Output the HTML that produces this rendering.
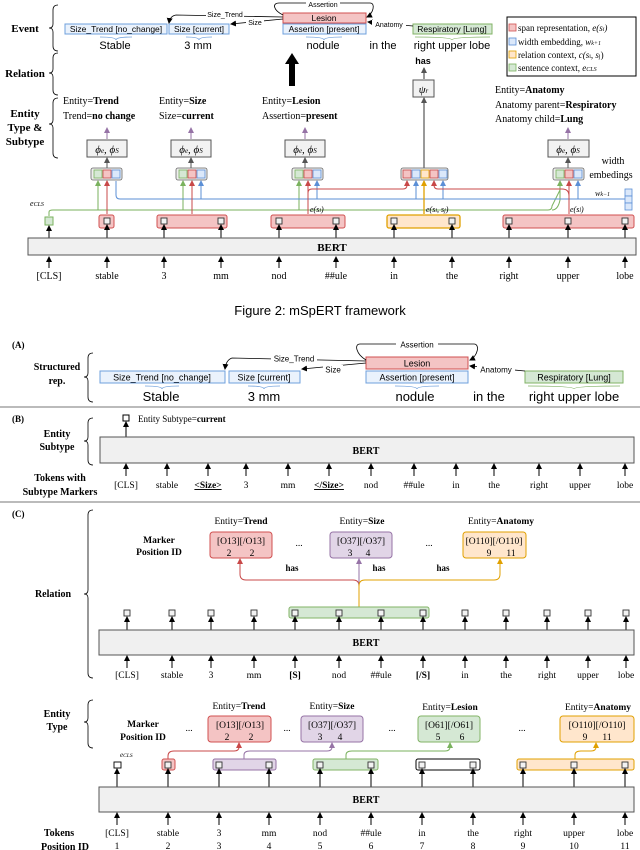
<!DOCTYPE html>
<html><head><meta charset="utf-8"><style>
body{margin:0;background:#fff}
svg{display:block}
.s{font-family:"Liberation Serif",serif}
.a{font-family:"Liberation Sans",sans-serif}
</style></head><body>
<svg width="640" height="850" viewBox="0 0 640 850" xmlns="http://www.w3.org/2000/svg">
<defs>
<marker id="mk" markerWidth="6" markerHeight="6" refX="5" refY="3" orient="auto" markerUnits="userSpaceOnUse"><path d="M0,0 L6,3 L0,6z" fill="#000"/></marker>
<marker id="mg" markerWidth="6" markerHeight="6" refX="5" refY="3" orient="auto" markerUnits="userSpaceOnUse"><path d="M0,0 L6,3 L0,6z" fill="#555"/></marker>
<marker id="mr" markerWidth="6" markerHeight="6" refX="5" refY="3" orient="auto" markerUnits="userSpaceOnUse"><path d="M0,0 L6,3 L0,6z" fill="#c84848"/></marker>
<marker id="mb" markerWidth="6" markerHeight="6" refX="5" refY="3" orient="auto" markerUnits="userSpaceOnUse"><path d="M0,0 L6,3 L0,6z" fill="#5b8fd6"/></marker>
<marker id="mn" markerWidth="6" markerHeight="6" refX="5" refY="3" orient="auto" markerUnits="userSpaceOnUse"><path d="M0,0 L6,3 L0,6z" fill="#7ab25e"/></marker>
<marker id="mo" markerWidth="6" markerHeight="6" refX="5" refY="3" orient="auto" markerUnits="userSpaceOnUse"><path d="M0,0 L6,3 L0,6z" fill="#e0a000"/></marker>
<marker id="mp" markerWidth="6" markerHeight="6" refX="5" refY="3" orient="auto" markerUnits="userSpaceOnUse"><path d="M0,0 L6,3 L0,6z" fill="#9673a6"/></marker>
</defs>

<!-- ============ TOP FIGURE ============ -->
<g class="s" font-weight="bold" font-size="11" text-anchor="middle">
<text x="25" y="32">Event</text>
<text x="25" y="77">Relation</text>
<text x="25" y="117">Entity</text><text x="25" y="131">Type &amp;</text><text x="25" y="145">Subtype</text>
</g>
<g fill="none" stroke="#000" stroke-width="0.8">
<path d="M58,5 Q53,5 53,10 L53,24 Q53,28 49,28 Q53,28 53,32 L53,46 Q53,51 58,51"/>
<path d="M58,53 Q53,53 53,58 L53,69 Q53,73 49,73 Q53,73 53,77 L53,90 Q53,95 58,95"/>
<path d="M58,98 Q53,98 53,103 L53,120 Q53,124 49,124 Q53,124 53,128 L53,153 Q53,158 58,158"/>
</g>
<g class="a" font-size="8.5" text-anchor="middle">
<rect x="65" y="24" width="102" height="10" fill="#eaf2fc" stroke="#6fa0dc"/><text x="116" y="32">Size_Trend [no_change]</text>
<rect x="169" y="24" width="60" height="10" fill="#eaf2fc" stroke="#6fa0dc"/><text x="199" y="32">Size [current]</text>
<rect x="283" y="13" width="83" height="10" fill="#f4c4c4" stroke="#d05050"/><text x="324" y="21">Lesion</text>
<rect x="283" y="24" width="83" height="10" fill="#eaf2fc" stroke="#6fa0dc"/><text x="324" y="32">Assertion [present]</text>
<rect x="413" y="24" width="79" height="10" fill="#d5e8d4" stroke="#82b366"/><text x="452" y="32">Respiratory [Lung]</text>
</g>
<g fill="none" stroke-width="0.8">
<path d="M100,37 Q116,37 116,40 Q116,37 132,37" stroke="#6fa0dc"/>
<path d="M186,37 Q199,37 199,40 Q199,37 212,37" stroke="#6fa0dc"/>
<path d="M306,37 Q324,37 324,40 Q324,37 342,37" stroke="#6fa0dc"/>
<path d="M415,37 Q452,37 452,40 Q452,37 490,37" stroke="#82b366"/>
</g>
<g class="a" font-size="11" text-anchor="middle">
<text x="115" y="49">Stable</text><text x="198" y="49">3 mm</text><text x="323" y="49">nodule</text><text x="383" y="49">in the</text><text x="452" y="49">right upper  lobe</text>
</g>
<g fill="none" stroke="#000" stroke-width="0.8">
<path d="M283,15 C273,10 272,3 279,3 L370,3 C376,3 373,14 367,17" marker-end="url(#mk)"/>
<path d="M283,17 L176,15 Q170,16 169,23" marker-end="url(#mk)"/>
<path d="M283,19 L231,24" marker-end="url(#mk)"/>
<path d="M413,26 L368,22" marker-end="url(#mk)"/>
</g>
<g class="a" font-size="7" text-anchor="middle">
<rect x="306" y="0" width="34" height="8" fill="#fff"/><text x="323" y="7">Assertion</text>
<rect x="206" y="10" width="38" height="8" fill="#fff"/><text x="225" y="17">Size_Trend</text>
<rect x="246" y="18" width="18" height="8" fill="#fff"/><text x="255" y="25">Size</text>
<rect x="372" y="20" width="34" height="8" fill="#fff"/><text x="389" y="27">Anatomy</text>
</g>
<path d="M289,86 L289,64 L285,64 L292,53 L299,64 L295,64 L295,86z" fill="#000"/>
<rect x="507" y="17" width="129" height="59" fill="#fff" stroke="#000" stroke-width="1"/>
<g class="s" font-size="9">
<rect x="509" y="24" width="7" height="7" fill="#f4c4c4" stroke="#d05050" stroke-width=".8"/><text x="518" y="31">span representation, <tspan font-style="italic">e(s</tspan><tspan font-size="6" font-style="italic">i</tspan><tspan font-style="italic">)</tspan></text>
<rect x="509" y="38" width="7" height="7" fill="#dbe8fa" stroke="#5b8fd6" stroke-width=".8"/><text x="518" y="45">width embedding, <tspan font-style="italic">w</tspan><tspan font-size="6" font-style="italic">k+1</tspan></text>
<rect x="509" y="51" width="7" height="7" fill="#ffe6cc" stroke="#e0a000" stroke-width=".8"/><text x="518" y="58">relation context, <tspan font-style="italic">c(s</tspan><tspan font-size="6">i</tspan><tspan font-style="italic">, s</tspan><tspan font-size="6">j</tspan>)</text>
<rect x="509" y="64" width="7" height="7" fill="#d5e8d4" stroke="#7ab25e" stroke-width=".8"/><text x="518" y="71">sentence context, <tspan font-style="italic">e</tspan><tspan font-size="6" font-style="italic">CLS</tspan></text>
</g>
<text x="423" y="64" class="a" font-size="9" font-weight="bold" text-anchor="middle">has</text>
<line x1="424" y1="168" x2="424" y2="98" stroke="#555" stroke-width="1.2" marker-end="url(#mg)"/>
<line x1="424" y1="79" x2="424" y2="68" stroke="#555" stroke-width="1.2" marker-end="url(#mg)"/>
<rect x="413" y="80" width="21" height="17" fill="#f2f2f2" stroke="#555"/>
<text x="423.5" y="93" class="s" font-size="11" font-style="italic" text-anchor="middle">ψ<tspan font-size="7">r</tspan></text>
<g class="s" font-size="10">
<text x="63" y="104">Entity=<tspan font-weight="bold">Trend</tspan></text><text x="63" y="119">Trend=<tspan font-weight="bold">no change</tspan></text>
<text x="159" y="104">Entity=<tspan font-weight="bold">Size</tspan></text><text x="159" y="119">Size=<tspan font-weight="bold">current</tspan></text>
<text x="262" y="104">Entity=<tspan font-weight="bold">Lesion</tspan></text><text x="262" y="119">Assertion=<tspan font-weight="bold">present</tspan></text>
<text x="495" y="93">Entity=<tspan font-weight="bold">Anatomy</tspan></text><text x="495" y="108">Anatomy parent=<tspan font-weight="bold">Respiratory</tspan></text><text x="495" y="122">Anatomy child=<tspan font-weight="bold">Lung</tspan></text>
<text x="613" y="164" text-anchor="middle">width</text><text x="611" y="178" text-anchor="middle">embedings</text>
</g>
<g stroke="#9673a6" stroke-width="1">
<line x1="107" y1="139" x2="107" y2="128" marker-end="url(#mp)"/>
<line x1="191" y1="139" x2="191" y2="128" marker-end="url(#mp)"/>
<line x1="305" y1="139" x2="305" y2="128" marker-end="url(#mp)"/>
<line x1="568" y1="139" x2="568" y2="128" marker-end="url(#mp)"/>
</g>
<g stroke="#555" stroke-width="1">
<line x1="107" y1="168" x2="107" y2="158" marker-end="url(#mg)"/>
<line x1="191" y1="168" x2="191" y2="158" marker-end="url(#mg)"/>
<line x1="305" y1="168" x2="305" y2="158" marker-end="url(#mg)"/>
<line x1="568" y1="168" x2="568" y2="158" marker-end="url(#mg)"/>
</g>
<g fill="#f2f2f2" stroke="#555">
<rect x="87" y="140" width="40" height="17"/><rect x="171" y="140" width="40" height="17"/><rect x="285" y="140" width="40" height="17"/><rect x="548" y="140" width="41" height="17"/>
</g>
<g class="s" font-size="11" font-style="italic" text-anchor="middle">
<text x="107" y="153">ϕ<tspan font-size="7">e</tspan>, ϕ<tspan font-size="7">S</tspan></text>
<text x="191" y="153">ϕ<tspan font-size="7">e</tspan>, ϕ<tspan font-size="7">S</tspan></text>
<text x="305" y="153">ϕ<tspan font-size="7">e</tspan>, ϕ<tspan font-size="7">S</tspan></text>
<text x="568" y="153">ϕ<tspan font-size="7">e</tspan>, ϕ<tspan font-size="7">S</tspan></text>
</g>
<g stroke-width=".8">
<rect x="91" y="168" width="31" height="12" rx="2" fill="#eee" stroke="#666"/>
<rect x="94" y="170" width="8" height="8" fill="#d5e8d4" stroke="#7ab25e"/><rect x="103" y="170" width="8" height="8" fill="#f4c4c4" stroke="#c84848"/><rect x="112" y="170" width="8" height="8" fill="#dbe8fa" stroke="#5b8fd6"/>
<rect x="176" y="168" width="31" height="12" rx="2" fill="#eee" stroke="#666"/>
<rect x="179" y="170" width="8" height="8" fill="#d5e8d4" stroke="#7ab25e"/><rect x="188" y="170" width="8" height="8" fill="#f4c4c4" stroke="#c84848"/><rect x="197" y="170" width="8" height="8" fill="#dbe8fa" stroke="#5b8fd6"/>
<rect x="292" y="168" width="31" height="12" rx="2" fill="#eee" stroke="#666"/>
<rect x="295" y="170" width="8" height="8" fill="#d5e8d4" stroke="#7ab25e"/><rect x="304" y="170" width="8" height="8" fill="#f4c4c4" stroke="#c84848"/><rect x="313" y="170" width="8" height="8" fill="#dbe8fa" stroke="#5b8fd6"/>
<rect x="553" y="168" width="31" height="12" rx="2" fill="#eee" stroke="#666"/>
<rect x="556" y="170" width="8" height="8" fill="#d5e8d4" stroke="#7ab25e"/><rect x="565" y="170" width="8" height="8" fill="#f4c4c4" stroke="#c84848"/><rect x="574" y="170" width="8" height="8" fill="#dbe8fa" stroke="#5b8fd6"/>
<rect x="401" y="168" width="47" height="12" rx="2" fill="#eee" stroke="#666"/>
<rect x="403" y="170" width="8" height="8" fill="#f4c4c4" stroke="#c84848"/><rect x="412" y="170" width="8" height="8" fill="#dbe8fa" stroke="#5b8fd6"/><rect x="421" y="170" width="8" height="8" fill="#ffe6cc" stroke="#e0a000"/><rect x="430" y="170" width="8" height="8" fill="#f4c4c4" stroke="#c84848"/><rect x="439" y="170" width="8" height="8" fill="#dbe8fa" stroke="#5b8fd6"/>
</g>
<g fill="none" stroke-width="1">
<path d="M49,216 L49,212 Q49,210 53,210 L548,210 Q552,210 552,206 L560,190 L560,181" stroke="#7ab25e"/>
<path d="M98,210 L98,181" stroke="#7ab25e" marker-end="url(#mn)"/>
<path d="M183,210 L183,181" stroke="#7ab25e" marker-end="url(#mn)"/>
<path d="M299,210 L299,181" stroke="#7ab25e" marker-end="url(#mn)"/>
<path d="M552,210 Q558,210 560,200 L560,181" stroke="#7ab25e" marker-end="url(#mn)"/>
<path d="M116,181 L116,195 Q116,199 120,199 L625,199" stroke="#5b8fd6"/>
<path d="M201,199 L201,181" stroke="#5b8fd6" marker-end="url(#mb)"/>
<path d="M317,199 L317,181" stroke="#5b8fd6" marker-end="url(#mb)"/>
<path d="M416,199 L416,181" stroke="#5b8fd6" marker-end="url(#mb)"/>
<path d="M443,199 L443,181" stroke="#5b8fd6" marker-end="url(#mb)"/>
<path d="M578,199 L578,181" stroke="#5b8fd6" marker-end="url(#mb)"/>
<path d="M107,214 L107,181" stroke="#c84848" marker-end="url(#mr)"/>
<path d="M192,214 L192,181" stroke="#c84848" marker-end="url(#mr)"/>
<path d="M308,214 L308,181" stroke="#c84848" marker-end="url(#mr)"/>
<path d="M308,200 L308,193 Q308,189 312,189 L403,189 Q407,189 407,185 L407,181" stroke="#c84848" marker-end="url(#mr)"/>
<path d="M569,214 L569,181" stroke="#c84848" marker-end="url(#mr)"/>
<path d="M569,200 L569,196 Q569,189 562,189 L438,189 Q434,189 434,185 L434,181" stroke="#c84848" marker-end="url(#mr)"/>
<path d="M424,214 L424,181" stroke="#e0a000" stroke-width="1.3" marker-end="url(#mo)"/>
</g>
<g stroke="#5b8fd6" stroke-width=".8" fill="#dbe8fa"><rect x="625" y="189" width="7" height="7"/><rect x="625" y="196" width="7" height="7"/><rect x="625" y="203" width="7" height="7"/></g>
<g class="s" font-size="8" font-style="italic">
<text x="595" y="196">w<tspan font-size="6">k−1</tspan></text>
<text x="30" y="206">e<tspan font-size="6">CLS</tspan></text>
<text x="310" y="212">e(s<tspan font-size="6">i</tspan>)</text>
<text x="426" y="212">e(s<tspan font-size="6">i</tspan>, s<tspan font-size="6">j</tspan>)</text>
<text x="570" y="212">e(s<tspan font-size="6">l</tspan>)</text>
</g>
<g stroke-width="1">
<rect x="99" y="215" width="15" height="13" rx="2" fill="#f4c4c4" stroke="#d05050"/>
<rect x="157" y="215" width="70" height="13" rx="2" fill="#f4c4c4" stroke="#d05050"/>
<rect x="271" y="215" width="74" height="13" rx="2" fill="#f4c4c4" stroke="#d05050"/>
<rect x="387" y="215" width="73" height="13" rx="2" fill="#ffe6cc" stroke="#e0a000" stroke-width="1.3"/>
<rect x="503" y="215" width="131" height="13" rx="2" fill="#f4c4c4" stroke="#d05050"/>
<rect x="45" y="217" width="8" height="8" fill="#d5e8d4" stroke="#7ab25e"/>
</g>
<g fill="#f2f2f2" stroke="#333" stroke-width=".9">
<rect x="104" y="218" width="6" height="6"/><rect x="161" y="218" width="6" height="6"/><rect x="218" y="218" width="6" height="6"/><rect x="276" y="218" width="6" height="6"/><rect x="333" y="218" width="6" height="6"/><rect x="391" y="218" width="6" height="6"/><rect x="449" y="218" width="6" height="6"/><rect x="506" y="218" width="6" height="6"/><rect x="565" y="218" width="6" height="6"/><rect x="622" y="218" width="6" height="6"/>
</g>
<g stroke="#000" stroke-width="1">
<line x1="49" y1="238" x2="49" y2="226" marker-end="url(#mk)"/><line x1="107" y1="238" x2="107" y2="225" marker-end="url(#mk)"/><line x1="164" y1="238" x2="164" y2="225" marker-end="url(#mk)"/><line x1="221" y1="238" x2="221" y2="225" marker-end="url(#mk)"/><line x1="279" y1="238" x2="279" y2="225" marker-end="url(#mk)"/><line x1="336" y1="238" x2="336" y2="225" marker-end="url(#mk)"/><line x1="394" y1="238" x2="394" y2="225" marker-end="url(#mk)"/><line x1="452" y1="238" x2="452" y2="225" marker-end="url(#mk)"/><line x1="509" y1="238" x2="509" y2="225" marker-end="url(#mk)"/><line x1="568" y1="238" x2="568" y2="225" marker-end="url(#mk)"/><line x1="625" y1="238" x2="625" y2="225" marker-end="url(#mk)"/>
</g>
<rect x="28" y="238" width="608" height="17" fill="#f0f0f0" stroke="#555"/>
<text x="332" y="251" class="s" font-size="11" font-weight="bold" text-anchor="middle">BERT</text>
<g stroke="#000" stroke-width="1">
<line x1="49" y1="268" x2="49" y2="257" marker-end="url(#mk)"/><line x1="107" y1="268" x2="107" y2="257" marker-end="url(#mk)"/><line x1="164" y1="268" x2="164" y2="257" marker-end="url(#mk)"/><line x1="221" y1="268" x2="221" y2="257" marker-end="url(#mk)"/><line x1="279" y1="268" x2="279" y2="257" marker-end="url(#mk)"/><line x1="336" y1="268" x2="336" y2="257" marker-end="url(#mk)"/><line x1="394" y1="268" x2="394" y2="257" marker-end="url(#mk)"/><line x1="452" y1="268" x2="452" y2="257" marker-end="url(#mk)"/><line x1="509" y1="268" x2="509" y2="257" marker-end="url(#mk)"/><line x1="568" y1="268" x2="568" y2="257" marker-end="url(#mk)"/><line x1="625" y1="268" x2="625" y2="257" marker-end="url(#mk)"/>
</g>
<g class="s" font-size="10" text-anchor="middle">
<text x="49" y="279">[CLS]</text><text x="107" y="279">stable</text><text x="164" y="279">3</text><text x="221" y="279">mm</text><text x="279" y="279">nod</text><text x="336" y="279">##ule</text><text x="394" y="279">in</text><text x="452" y="279">the</text><text x="509" y="279">right</text><text x="568" y="279">upper</text><text x="625" y="279">lobe</text>
</g>
<text x="320" y="315" class="a" font-size="13" text-anchor="middle">Figure 2: mSpERT framework</text>

<!-- ============ (A) ============ -->
<g class="s" font-weight="bold" font-size="9">
<text x="12" y="348">(A)</text><text x="12" y="422">(B)</text><text x="12" y="517">(C)</text>
</g>
<g class="s" font-weight="bold" font-size="10" text-anchor="middle">
<text x="57" y="370">Structured</text><text x="57" y="384">rep.</text>
<text x="57" y="437">Entity</text><text x="57" y="450">Subtype</text>
<text x="60" y="481">Tokens with</text><text x="60" y="495">Subtype Markers</text>
<text x="53" y="597">Relation</text>
<text x="57" y="717">Entity</text><text x="57" y="730">Type</text>
<text x="59" y="836">Tokens</text><text x="65" y="850">Position ID</text>
<text x="159" y="543" font-size="9.5">Marker</text><text x="159" y="555" font-size="9.5">Position ID</text>
<text x="143" y="727" font-size="9.5">Marker</text><text x="143" y="740" font-size="9.5">Position ID</text>
</g>
<g fill="none" stroke="#000" stroke-width="0.8">
<path d="M93,353 Q88,353 88,358 L88,373 Q88,377 84,377 Q88,377 88,381 L88,397 Q88,402 93,402"/>
<path d="M93,418 Q88,418 88,423 L88,437 Q88,441 84,441 Q88,441 88,445 L88,460 Q88,465 93,465"/>
<path d="M93,510 Q88,510 88,515 L88,590 Q88,594 84,594 Q88,594 88,598 L88,673 Q88,678 93,678"/>
<path d="M93,700 Q88,700 88,705 L88,718 Q88,722 84,722 Q88,722 88,726 L88,743 Q88,748 93,748"/>
</g>
<g class="a" font-size="9" text-anchor="middle">
<rect x="100" y="371" width="125" height="12" fill="#eaf2fc" stroke="#6fa0dc"/><text x="162" y="380.5">Size_Trend [no_change]</text>
<rect x="229" y="371" width="71" height="12" fill="#eaf2fc" stroke="#6fa0dc"/><text x="264" y="380.5">Size [current]</text>
<rect x="366" y="357" width="102" height="12" fill="#f4c4c4" stroke="#d05050"/><text x="417" y="366.5">Lesion</text>
<rect x="366" y="371" width="102" height="12" fill="#eaf2fc" stroke="#6fa0dc"/><text x="417" y="380.5">Assertion [present]</text>
<rect x="525" y="371" width="98" height="12" fill="#d5e8d4" stroke="#82b366"/><text x="574" y="380.5">Respiratory [Lung]</text>
</g>
<g fill="none" stroke-width="0.8">
<path d="M145,386 Q162,386 162,389 Q162,386 179,386" stroke="#6fa0dc"/>
<path d="M248,386 Q264,386 264,389 Q264,386 280,386" stroke="#6fa0dc"/>
<path d="M395,386 Q417,386 417,389 Q417,386 439,386" stroke="#6fa0dc"/>
<path d="M528,386 Q574,386 574,389 Q574,386 620,386" stroke="#82b366"/>
</g>
<g class="a" font-size="13" text-anchor="middle">
<text x="161" y="401">Stable</text><text x="264" y="401">3 mm</text><text x="415" y="401">nodule</text><text x="489" y="401">in the</text><text x="574" y="401">right upper  lobe</text>
</g>
<g fill="none" stroke="#000" stroke-width="0.8">
<path d="M366,360 C356,354 354,344 360,344 L474,344 C480,344 478,356 470,360" marker-end="url(#mk)"/>
<path d="M366,361 L232,358 Q226,360 225,369" marker-end="url(#mk)"/>
<path d="M366,363 L302,369" marker-end="url(#mk)"/>
<path d="M525,371 L470,366" marker-end="url(#mk)"/>
</g>
<g class="a" font-size="8" text-anchor="middle">
<rect x="396" y="340" width="42" height="9" fill="#fff"/><text x="417" y="347.5">Assertion</text>
<rect x="271" y="354" width="46" height="9" fill="#fff"/><text x="294" y="361.5">Size_Trend</text>
<rect x="323" y="365" width="20" height="9" fill="#fff"/><text x="333" y="372.5">Size</text>
<rect x="477" y="365" width="38" height="9" fill="#fff"/><text x="496" y="372.5">Anatomy</text>
</g>
<line x1="0" y1="407" x2="640" y2="407" stroke="#777" stroke-width="1"/>

<!-- ============ (B) ============ -->
<rect x="123" y="415" width="6" height="6" fill="#fff" stroke="#000"/>
<line x1="126" y1="437" x2="126" y2="422" stroke="#000" marker-end="url(#mk)"/>
<text x="138" y="422" class="s" font-size="9">Entity Subtype=<tspan font-weight="bold">current</tspan></text>
<rect x="100" y="437" width="534" height="26" fill="#f0f0f0" stroke="#555"/>
<text x="366" y="454" class="s" font-size="10" font-weight="bold" text-anchor="middle">BERT</text>
<g stroke="#000" stroke-width="1">
<line x1="126" y1="476" x2="126" y2="464" marker-end="url(#mk)"/><line x1="167" y1="476" x2="167" y2="464" marker-end="url(#mk)"/><line x1="208" y1="476" x2="208" y2="464" marker-end="url(#mk)"/><line x1="246" y1="476" x2="246" y2="464" marker-end="url(#mk)"/><line x1="288" y1="476" x2="288" y2="464" marker-end="url(#mk)"/><line x1="329" y1="476" x2="329" y2="464" marker-end="url(#mk)"/><line x1="371" y1="476" x2="371" y2="464" marker-end="url(#mk)"/><line x1="414" y1="476" x2="414" y2="464" marker-end="url(#mk)"/><line x1="456" y1="476" x2="456" y2="464" marker-end="url(#mk)"/><line x1="494" y1="476" x2="494" y2="464" marker-end="url(#mk)"/><line x1="539" y1="476" x2="539" y2="464" marker-end="url(#mk)"/><line x1="580" y1="476" x2="580" y2="464" marker-end="url(#mk)"/><line x1="625" y1="476" x2="625" y2="464" marker-end="url(#mk)"/>
</g>
<g class="s" font-size="9.5" text-anchor="middle">
<text x="126" y="488">[CLS]</text><text x="167" y="488">stable</text><text x="208" y="488" font-weight="bold" text-decoration="underline">&lt;Size&gt;</text><text x="246" y="488">3</text><text x="288" y="488">mm</text><text x="329" y="488" font-weight="bold" text-decoration="underline">&lt;/Size&gt;</text><text x="371" y="488">nod</text><text x="414" y="488">##ule</text><text x="456" y="488">in</text><text x="494" y="488">the</text><text x="539" y="488">right</text><text x="580" y="488">upper</text><text x="625" y="488">lobe</text>
</g>
<line x1="0" y1="502" x2="640" y2="502" stroke="#777" stroke-width="1"/>

<!-- ============ (C) Relation ============ -->
<g class="s" font-size="9.5" text-anchor="middle">
<text x="241" y="524">Entity=<tspan font-weight="bold">Trend</tspan></text>
<text x="362" y="524">Entity=<tspan font-weight="bold">Size</tspan></text>
<text x="501" y="524">Entity=<tspan font-weight="bold">Anatomy</tspan></text>
</g>
<rect x="210" y="532" width="62" height="26" rx="3" fill="#f4c4c4" stroke="#d05050"/>
<rect x="330" y="532" width="62" height="26" rx="3" fill="#e1d5e7" stroke="#9673a6"/>
<rect x="463" y="532" width="63" height="26" rx="3" fill="#ffe6cc" stroke="#e0a000"/>
<g class="s" font-size="9.5" text-anchor="middle">
<text x="241" y="544">[O13][/O13]</text><text x="229" y="556">2</text><text x="252" y="556">2</text>
<text x="361" y="544">[O37][/O37]</text><text x="350" y="556">3</text><text x="368" y="556">4</text>
<text x="494" y="544">[O110][/O110]</text><text x="489" y="556">9</text><text x="511" y="556">11</text>
<text x="299" y="546">...</text><text x="429" y="546">...</text>
</g>
<g class="s" font-size="9" font-weight="bold" text-anchor="middle"><text x="292" y="571">has</text><text x="379" y="571">has</text><text x="443" y="571">has</text></g>
<g fill="none" stroke-width="1">
<path d="M359,607 L359,586 Q359,580 353,580 L246,580 Q240,580 240,574 L240,559" stroke="#c84848" marker-end="url(#mr)"/>
<path d="M359,586 L359,559" stroke="#9673a6" marker-end="url(#mp)"/>
<path d="M359,607 L359,586 Q359,580 365,580 L494,580 Q500,580 500,574 L500,559" stroke="#e0a000" marker-end="url(#mo)"/>
</g>
<rect x="289" y="607" width="140" height="11" rx="2" fill="#d5e8d4" stroke="#82b366"/>
<g fill="#f2f2f2" stroke="#333" stroke-width=".9">
<rect x="124" y="610" width="6" height="6"/><rect x="169" y="610" width="6" height="6"/><rect x="208" y="610" width="6" height="6"/><rect x="251" y="610" width="6" height="6"/><rect x="292" y="610" width="6" height="6"/><rect x="336" y="610" width="6" height="6"/><rect x="378" y="610" width="6" height="6"/><rect x="420" y="610" width="6" height="6"/><rect x="462" y="610" width="6" height="6"/><rect x="503" y="610" width="6" height="6"/><rect x="544" y="610" width="6" height="6"/><rect x="585" y="610" width="6" height="6"/><rect x="623" y="610" width="6" height="6"/>
</g>
<g stroke="#000" stroke-width="1">
<line x1="127" y1="630" x2="127" y2="617" marker-end="url(#mk)"/><line x1="172" y1="630" x2="172" y2="617" marker-end="url(#mk)"/><line x1="211" y1="630" x2="211" y2="617" marker-end="url(#mk)"/><line x1="254" y1="630" x2="254" y2="617" marker-end="url(#mk)"/><line x1="295" y1="630" x2="295" y2="617" marker-end="url(#mk)"/><line x1="339" y1="630" x2="339" y2="617" marker-end="url(#mk)"/><line x1="381" y1="630" x2="381" y2="617" marker-end="url(#mk)"/><line x1="423" y1="630" x2="423" y2="617" marker-end="url(#mk)"/><line x1="465" y1="630" x2="465" y2="617" marker-end="url(#mk)"/><line x1="506" y1="630" x2="506" y2="617" marker-end="url(#mk)"/><line x1="547" y1="630" x2="547" y2="617" marker-end="url(#mk)"/><line x1="588" y1="630" x2="588" y2="617" marker-end="url(#mk)"/><line x1="626" y1="630" x2="626" y2="617" marker-end="url(#mk)"/>
</g>
<rect x="99" y="630" width="535" height="25" fill="#f0f0f0" stroke="#555"/>
<text x="366" y="646" class="s" font-size="10" font-weight="bold" text-anchor="middle">BERT</text>
<g stroke="#000" stroke-width="1">
<line x1="127" y1="668" x2="127" y2="656" marker-end="url(#mk)"/><line x1="172" y1="668" x2="172" y2="656" marker-end="url(#mk)"/><line x1="211" y1="668" x2="211" y2="656" marker-end="url(#mk)"/><line x1="254" y1="668" x2="254" y2="656" marker-end="url(#mk)"/><line x1="295" y1="668" x2="295" y2="656" marker-end="url(#mk)"/><line x1="339" y1="668" x2="339" y2="656" marker-end="url(#mk)"/><line x1="381" y1="668" x2="381" y2="656" marker-end="url(#mk)"/><line x1="423" y1="668" x2="423" y2="656" marker-end="url(#mk)"/><line x1="465" y1="668" x2="465" y2="656" marker-end="url(#mk)"/><line x1="506" y1="668" x2="506" y2="656" marker-end="url(#mk)"/><line x1="547" y1="668" x2="547" y2="656" marker-end="url(#mk)"/><line x1="588" y1="668" x2="588" y2="656" marker-end="url(#mk)"/><line x1="626" y1="668" x2="626" y2="656" marker-end="url(#mk)"/>
</g>
<g class="s" font-size="9.5" text-anchor="middle">
<text x="127" y="678">[CLS]</text><text x="172" y="678">stable</text><text x="211" y="678">3</text><text x="254" y="678">mm</text><text x="295" y="678" font-weight="bold">[S]</text><text x="339" y="678">nod</text><text x="381" y="678">##ule</text><text x="423" y="678" font-weight="bold">[/S]</text><text x="465" y="678">in</text><text x="506" y="678">the</text><text x="547" y="678">right</text><text x="588" y="678">upper</text><text x="626" y="678">lobe</text>
</g>

<!-- ============ (C) Entity Type ============ -->
<g class="s" font-size="9.5" text-anchor="middle">
<text x="239" y="709">Entity=<tspan font-weight="bold">Trend</tspan></text>
<text x="332" y="709">Entity=<tspan font-weight="bold">Size</tspan></text>
<text x="450" y="710">Entity=<tspan font-weight="bold">Lesion</tspan></text>
<text x="598" y="710">Entity=<tspan font-weight="bold">Anatomy</tspan></text>
</g>
<rect x="208" y="716" width="63" height="26" rx="3" fill="#f4c4c4" stroke="#d05050"/>
<rect x="301" y="716" width="62" height="26" rx="3" fill="#e1d5e7" stroke="#9673a6"/>
<rect x="418" y="716" width="62" height="26" rx="3" fill="#d5e8d4" stroke="#82b366"/>
<rect x="560" y="716" width="74" height="26" rx="3" fill="#ffe6cc" stroke="#e0a000"/>
<g class="s" font-size="9.5" text-anchor="middle">
<text x="240" y="728">[O13][/O13]</text><text x="227" y="740">2</text><text x="251" y="740">2</text>
<text x="332" y="728">[O37][/O37]</text><text x="320" y="740">3</text><text x="340" y="740">4</text>
<text x="449" y="728">[O61][/O61]</text><text x="438" y="740">5</text><text x="462" y="740">6</text>
<text x="597" y="728">[O110][/O110]</text><text x="585" y="740">9</text><text x="607" y="740">11</text>
<text x="189" y="731">...</text><text x="287" y="731">...</text><text x="392" y="731">...</text><text x="522" y="731">...</text>
</g>
<g fill="none" stroke-width="1">
<path d="M168,759 L168,756 Q168,751 174,751 L234,751 Q239,751 239,747 L239,743" stroke="#c84848" marker-end="url(#mr)"/>
<path d="M244,759 L244,755 Q244,751 250,751 L327,751 Q332,751 332,747 L332,743" stroke="#9673a6" marker-end="url(#mp)"/>
<path d="M346,759 L346,755 Q346,751 352,751 L445,751 Q450,751 450,747 L450,743" stroke="#7ab25e" marker-end="url(#mn)"/>
<path d="M575,759 L575,755 Q575,751 581,751 L591,751 Q596,751 596,747 L596,743" stroke="#e0a000" marker-end="url(#mo)"/>
</g>
<text x="120" y="757" class="s" font-size="7" font-style="italic">e<tspan font-size="5.5">CLS</tspan></text>
<g stroke-width="1">
<rect x="162" y="759" width="13" height="11" rx="2" fill="#f4c4c4" stroke="#d05050"/>
<rect x="213" y="759" width="63" height="11" rx="2" fill="#e1d5e7" stroke="#9673a6"/>
<rect x="313" y="759" width="65" height="11" rx="2" fill="#d5e8d4" stroke="#82b366"/>
<rect x="416" y="759" width="64" height="11" rx="2" fill="#fff" stroke="#000"/>
<rect x="517" y="759" width="117" height="11" rx="2" fill="#ffe6cc" stroke="#e0a000"/>
</g>
<g fill="#f2f2f2" stroke="#333" stroke-width=".9">
<rect x="114" y="762" width="7" height="6" fill="#fff" stroke="#000"/><rect x="165" y="762" width="6" height="6"/><rect x="216" y="762" width="6" height="6"/><rect x="266" y="762" width="6" height="6"/><rect x="317" y="762" width="6" height="6"/><rect x="368" y="762" width="6" height="6"/><rect x="419" y="762" width="6" height="6"/><rect x="470" y="762" width="6" height="6"/><rect x="520" y="762" width="6" height="6"/><rect x="571" y="762" width="6" height="6"/><rect x="622" y="762" width="6" height="6"/>
</g>
<g stroke="#000" stroke-width="1">
<line x1="117" y1="787" x2="117" y2="769" marker-end="url(#mk)"/><line x1="168" y1="787" x2="168" y2="769" marker-end="url(#mk)"/><line x1="219" y1="787" x2="219" y2="769" marker-end="url(#mk)"/><line x1="269" y1="787" x2="269" y2="769" marker-end="url(#mk)"/><line x1="320" y1="787" x2="320" y2="769" marker-end="url(#mk)"/><line x1="371" y1="787" x2="371" y2="769" marker-end="url(#mk)"/><line x1="422" y1="787" x2="422" y2="769" marker-end="url(#mk)"/><line x1="473" y1="787" x2="473" y2="769" marker-end="url(#mk)"/><line x1="523" y1="787" x2="523" y2="769" marker-end="url(#mk)"/><line x1="574" y1="787" x2="574" y2="769" marker-end="url(#mk)"/><line x1="625" y1="787" x2="625" y2="769" marker-end="url(#mk)"/>
</g>
<rect x="99" y="787" width="535" height="25" fill="#f0f0f0" stroke="#555"/>
<text x="366" y="803" class="s" font-size="10" font-weight="bold" text-anchor="middle">BERT</text>
<g stroke="#000" stroke-width="1">
<line x1="117" y1="825" x2="117" y2="813" marker-end="url(#mk)"/><line x1="168" y1="825" x2="168" y2="813" marker-end="url(#mk)"/><line x1="219" y1="825" x2="219" y2="813" marker-end="url(#mk)"/><line x1="269" y1="825" x2="269" y2="813" marker-end="url(#mk)"/><line x1="320" y1="825" x2="320" y2="813" marker-end="url(#mk)"/><line x1="371" y1="825" x2="371" y2="813" marker-end="url(#mk)"/><line x1="422" y1="825" x2="422" y2="813" marker-end="url(#mk)"/><line x1="473" y1="825" x2="473" y2="813" marker-end="url(#mk)"/><line x1="523" y1="825" x2="523" y2="813" marker-end="url(#mk)"/><line x1="574" y1="825" x2="574" y2="813" marker-end="url(#mk)"/><line x1="625" y1="825" x2="625" y2="813" marker-end="url(#mk)"/>
</g>
<g class="s" font-size="9.5" text-anchor="middle">
<text x="117" y="836">[CLS]</text><text x="168" y="836">stable</text><text x="219" y="836">3</text><text x="269" y="836">mm</text><text x="320" y="836">nod</text><text x="371" y="836">##ule</text><text x="422" y="836">in</text><text x="473" y="836">the</text><text x="523" y="836">right</text><text x="574" y="836">upper</text><text x="625" y="836">lobe</text>
<text x="117" y="849">1</text><text x="168" y="849">2</text><text x="219" y="849">3</text><text x="269" y="849">4</text><text x="320" y="849">5</text><text x="371" y="849">6</text><text x="422" y="849">7</text><text x="473" y="849">8</text><text x="523" y="849">9</text><text x="574" y="849">10</text><text x="625" y="849">11</text>
</g>
</svg>
</body></html>
